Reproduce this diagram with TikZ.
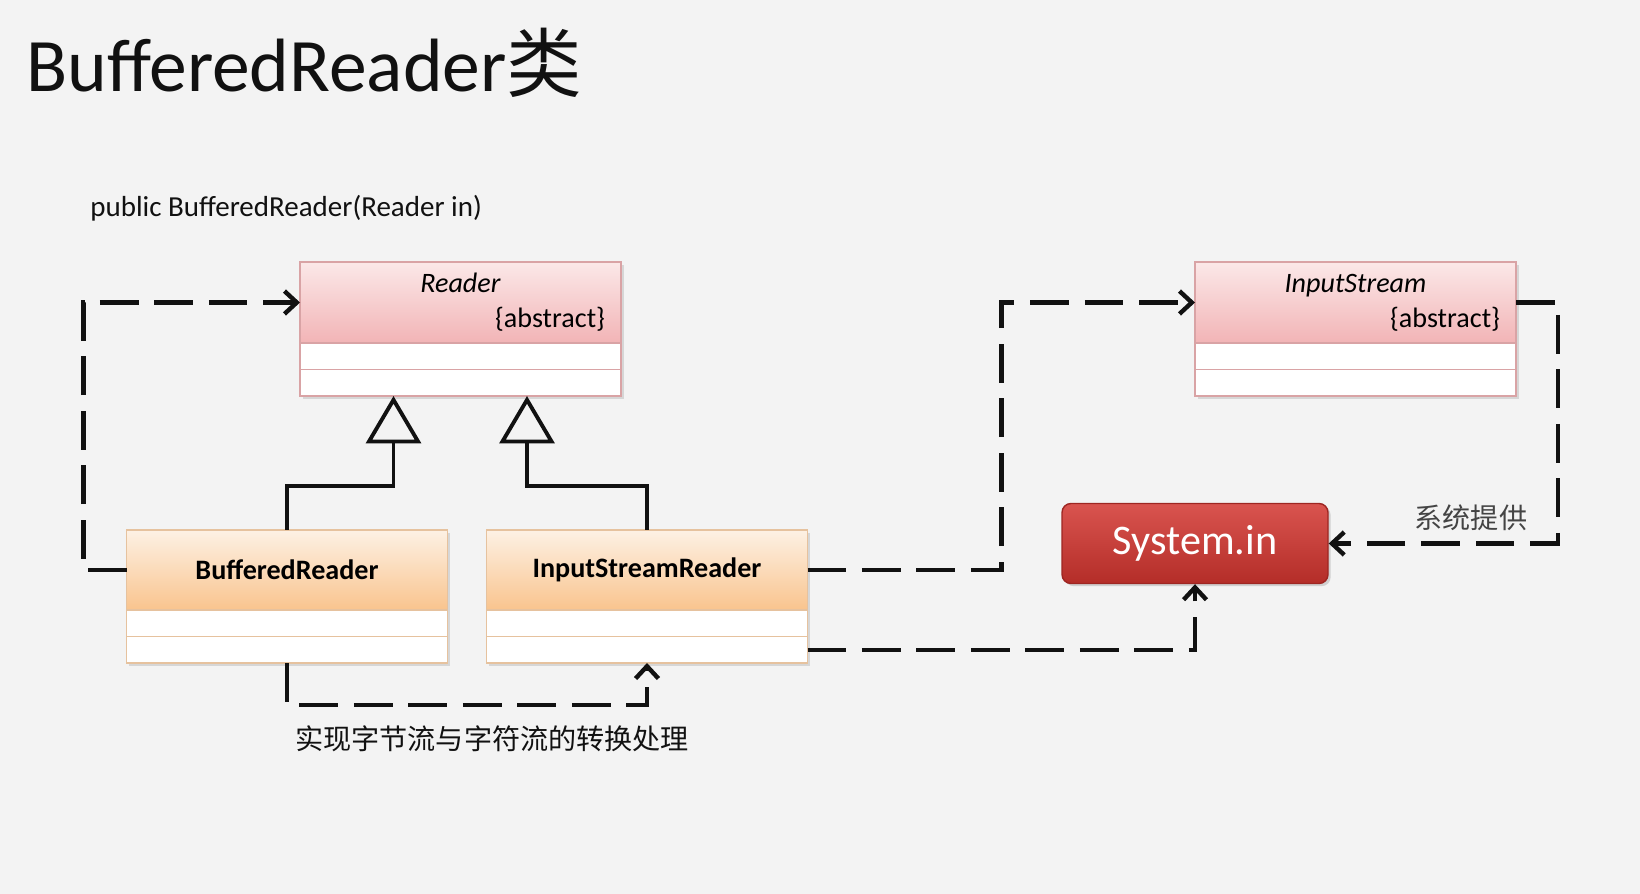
\documentclass[tikz,border=0pt]{standalone}
\usepackage{fontspec}
\setmainfont{Carlito}
\newfontfamily\cjk{Noto Sans CJK SC}
\usetikzlibrary{arrows.meta, positioning, shadows, calc}
\definecolor{bgc}     {HTML}{F3F3F3}
\definecolor{ink}     {HTML}{111111}
\definecolor{pinktop} {HTML}{FBE8E8}
\definecolor{pinkbot} {HTML}{F2B4B6}
\definecolor{pinkline}{HTML}{D9A3A5}
\definecolor{orgtop}  {HTML}{FDF1E4}
\definecolor{orgbot}  {HTML}{F9C48E}
\definecolor{orgline} {HTML}{E6C29E}
\definecolor{redtop}  {HTML}{D9544F}
\definecolor{redbot}  {HTML}{B42D28}
\definecolor{redline} {HTML}{9E2622}
\definecolor{labgray} {HTML}{444444}
\newcommand{\pushright}{\hskip 0pt plus 1filll}
\tikzset{
  cls/.style      = {rectangle, outer sep=0pt, minimum width=6.42cm,
                     line width=0.6pt, font=\fontsize{16}{20}\selectfont,
                     drop shadow={opacity=0.25, shadow xshift=1.5pt, shadow yshift=-1.5pt}},
  pinkhead/.style = {cls, draw=pinkline, top color=pinktop, bottom color=pinkbot,
                     minimum height=1.62cm, text width=5.78cm, inner xsep=0.32cm, align=center},
  pinkcell/.style = {cls, draw=pinkline, fill=white, minimum height=0.53cm},
  orghead/.style  = {cls, draw=orgline, top color=orgtop, bottom color=orgbot,
                     minimum height=1.6cm, font=\fontsize{16}{20}\selectfont\bfseries},
  orgcell/.style  = {cls, draw=orgline, fill=white, minimum height=0.53cm},
  sysbox/.style   = {rectangle, rounded corners=0.18cm, draw=redline, line width=0.8pt,
                     top color=redtop, bottom color=redbot, text=white,
                     minimum width=5.32cm, minimum height=1.6cm,
                     font=\fontsize{24}{28}\selectfont,
                     drop shadow={opacity=0.3, shadow xshift=1.5pt, shadow yshift=-1.5pt}},
  dep/.style      = {ink, line width=2.5pt, dash pattern=on 22pt off 9pt,
                     -{Straight Barb[length=7pt, width=13pt]}},
  gen/.style      = {ink, line width=2.2pt, -{Triangle[open, length=0.95cm, width=1.1cm]}},
  ttl/.style      = {font=\fontsize{43}{50}\selectfont, inner sep=0pt, text=ink},
  sig/.style      = {font=\fontsize{16.5}{20}\selectfont, inner sep=0pt, text=ink},
  note/.style     = {font=\cjk\fontsize{16}{20}\selectfont, text=ink},
  lbl/.style      = {font=\cjk\fontsize{16}{20}\selectfont, text=labgray},
}

\begin{document}
\begin{tikzpicture}[node distance=0pt]

  \useasboundingbox (0,0) rectangle (32.8,-17.88);
  \fill[bgc] (0,0) rectangle (32.8,-17.88);

  % --- headings ---
  \node[ttl, anchor=base west] (title) at (0.52,-1.84) {BufferedReader{\cjk 类}};
  \node[sig, anchor=base west] (ctor)  at (1.8,-4.33) {public BufferedReader(Reader in)};

  % --- abstract classes ---
  \node[pinkhead] (reader) at (9.21,-6.05)
        {\textit{Reader}\\\pushright\{abstract\}};
  \node[pinkcell, below=of reader]  (reader1) {};
  \node[pinkcell, below=of reader1] (reader2) {};

  \node[pinkhead, right=11.48cm of reader] (is)
        {\textit{InputStream}\\\pushright\{abstract\}};
  \node[pinkcell, below=of is]  (is1) {};
  \node[pinkcell, below=of is1] (is2) {};

  % --- concrete classes ---
  \node[orghead] (br) at (5.74,-11.4) {BufferedReader};
  \node[orgcell, below=of br]  (br1) {};
  \node[orgcell, below=of br1] (br2) {};

  \node[orghead, right=0.78cm of br] (ir) {InputStreamReader};
  \node[orgcell, below=of ir]  (ir1) {};
  \node[orgcell, below=of ir1] (ir2) {};

  % --- system input ---
  \node[sysbox] (sysin) at (23.9,-10.87) {System.in};

  % --- inheritance ---
  \coordinate (tip1) at ($(reader2.south)+(-1.34,0)$);
  \coordinate (tip2) at ($(reader2.south)+(1.33,0)$);
  \draw[gen] (br.north) |- ($(tip1)+(0,-1.8)$) -- (tip1);
  \draw[gen] (ir.north) |- ($(tip2)+(0,-1.8)$) -- (tip2);

  % --- dependencies ---
  \draw[dep] (br.west) -- ++(-0.86,0) |- (reader.west);
  \draw[dep] (br2.south) -- ++(0,-0.84)
        -| node[note, pos=0.285, below=0.25cm] {实现字节流与字符流的转换处理} (ir2.south);
  \draw[dep] (ir.east) -- ++(3.88,0) |- (is.west);
  \draw[dep] (ir2.east) -| (sysin.south);
  \draw[dep] (is.east) -- ++(0.84,0)
        |- node[lbl, pos=0.69, above=0.1cm] {系统提供} (sysin.east);

\end{tikzpicture}
\end{document}
